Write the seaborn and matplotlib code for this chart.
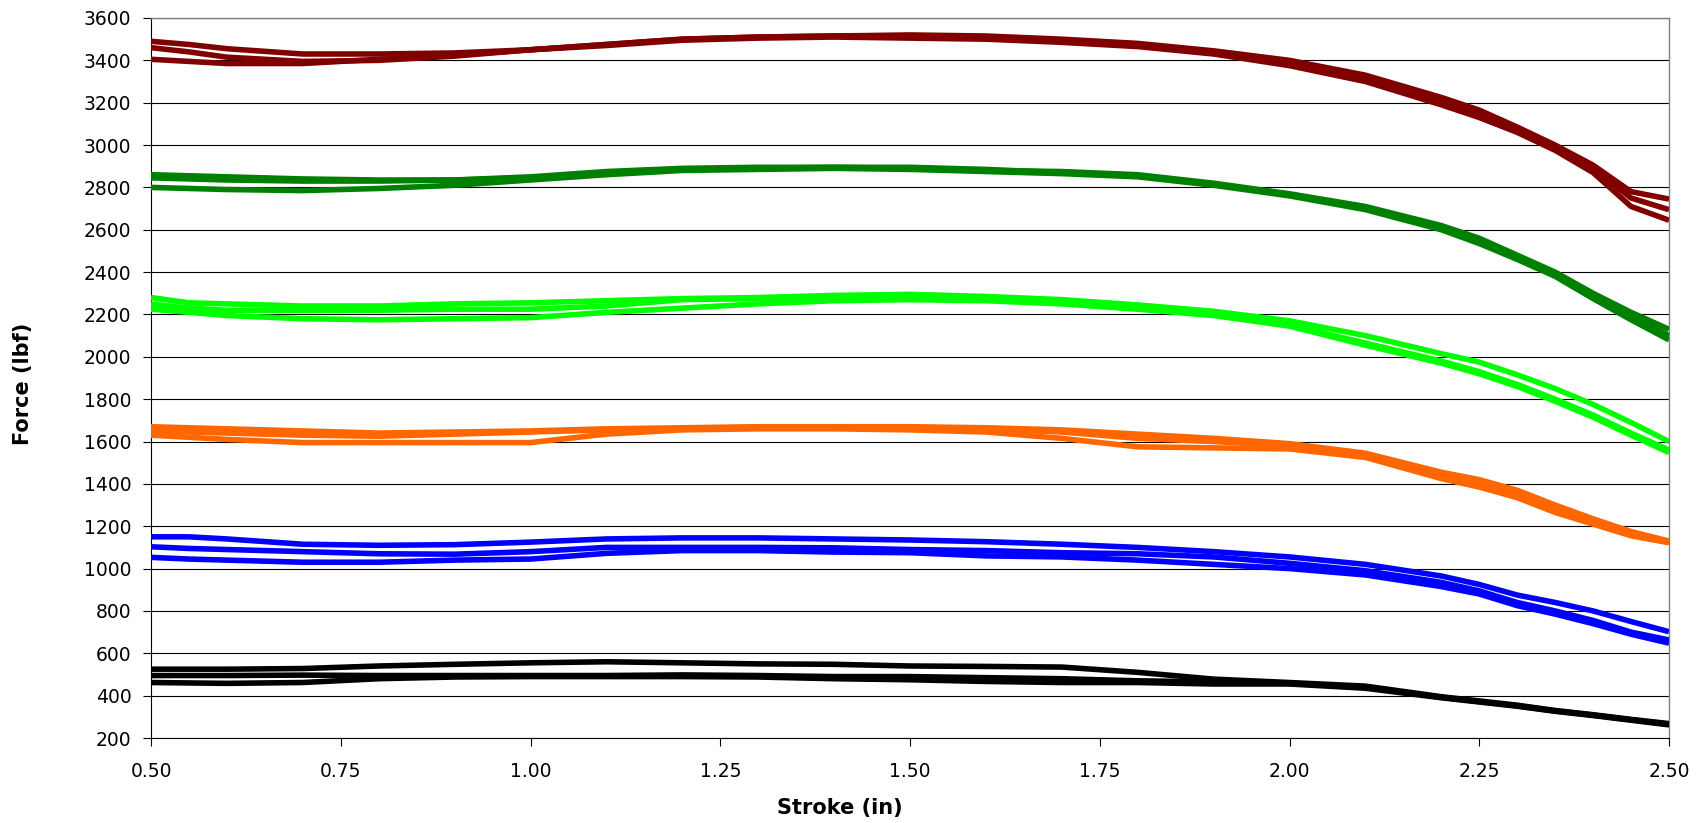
import pandas as pd
import seaborn as sns
import matplotlib.pyplot as plt

stroke = [0.50, 0.55, 0.60, 0.70, 0.80, 0.90, 1.00, 1.10, 1.20, 1.30, 1.40, 1.50, 1.60,
          1.70, 1.80, 1.90, 2.00, 2.10, 2.20, 2.25, 2.30, 2.35, 2.40, 2.45, 2.50]

# dark red set
red_1 = [3490, 3475, 3455, 3430, 3430, 3435, 3450, 3475, 3500, 3510, 3515, 3520, 3515,
         3500, 3480, 3445, 3400, 3330, 3225, 3165, 3085, 3000, 2905, 2780, 2745]
red_2 = [3460, 3440, 3415, 3395, 3400, 3420, 3450, 3475, 3500, 3510, 3515, 3515, 3510,
         3495, 3470, 3435, 3390, 3320, 3210, 3150, 3075, 2990, 2890, 2750, 2695]
red_3 = [3405, 3395, 3385, 3385, 3405, 3425, 3450, 3470, 3495, 3505, 3510, 3505, 3500,
         3485, 3465, 3430, 3375, 3300, 3190, 3130, 3060, 2975, 2870, 2710, 2645]

# green set
green_1 = [2860, 2855, 2850, 2840, 2835, 2835, 2850, 2875, 2890, 2895, 2895, 2890, 2880,
           2875, 2860, 2820, 2770, 2710, 2620, 2560, 2480, 2400, 2300, 2210, 2130]
green_2 = [2845, 2840, 2835, 2830, 2830, 2835, 2845, 2870, 2885, 2890, 2895, 2895, 2885,
           2870, 2855, 2815, 2765, 2705, 2610, 2545, 2470, 2390, 2290, 2190, 2100]
green_3 = [2800, 2795, 2790, 2785, 2795, 2810, 2835, 2860, 2880, 2885, 2890, 2885, 2875,
           2865, 2850, 2810, 2760, 2695, 2600, 2535, 2460, 2380, 2275, 2175, 2080]

# lime set
lime_1 = [2280, 2255, 2250, 2240, 2240, 2250, 2255, 2265, 2275, 2280, 2290, 2295, 2285,
          2270, 2245, 2215, 2170, 2100, 2015, 1975, 1915, 1850, 1775, 1690, 1600]
lime_2 = [2250, 2230, 2220, 2220, 2220, 2225, 2225, 2240, 2270, 2275, 2280, 2280, 2275,
          2260, 2235, 2200, 2150, 2065, 1980, 1930, 1870, 1800, 1725, 1640, 1560]
lime_3 = [2225, 2210, 2195, 2180, 2175, 2180, 2185, 2210, 2230, 2250, 2265, 2270, 2265,
          2250, 2225, 2195, 2145, 2055, 1970, 1920, 1860, 1790, 1715, 1630, 1548]

# orange set
orange_1 = [1670, 1665, 1660, 1650, 1640, 1645, 1650, 1660, 1665, 1670, 1670, 1670, 1665,
            1655, 1635, 1615, 1590, 1545, 1455, 1420, 1370, 1300, 1235, 1175, 1130]
orange_2 = [1650, 1645, 1640, 1630, 1625, 1635, 1645, 1655, 1660, 1665, 1665, 1665, 1660,
            1645, 1615, 1600, 1580, 1535, 1440, 1400, 1355, 1285, 1225, 1165, 1125]
orange_3 = [1630, 1620, 1610, 1595, 1595, 1595, 1595, 1635, 1655, 1660, 1660, 1655, 1645,
            1615, 1575, 1570, 1565, 1525, 1425, 1385, 1335, 1265, 1210, 1155, 1122]

# blue set
blue_1 = [1150, 1150, 1140, 1115, 1110, 1113, 1125, 1140, 1145, 1145, 1140, 1135, 1127,
          1115, 1100, 1080, 1055, 1020, 965, 925, 875, 840, 800, 750, 702]
blue_2 = [1103, 1095, 1090, 1080, 1070, 1068, 1080, 1100, 1100, 1100, 1098, 1090, 1085,
          1075, 1070, 1055, 1025, 990, 935, 895, 840, 800, 755, 700, 663]
blue_3 = [1053, 1045, 1040, 1030, 1030, 1040, 1045, 1072, 1085, 1085, 1078, 1075, 1060,
          1055, 1040, 1020, 1000, 970, 915, 880, 825, 785, 740, 690, 648]

# black set
black_1 = [525, 525, 525, 528, 540, 548, 555, 560, 555, 550, 548, 540, 538,
           535, 510, 478, 462, 445, 395, 375, 355, 330, 310, 288, 268]
black_2 = [495, 495, 495, 497, 495, 495, 495, 495, 498, 495, 490, 490, 485,
           480, 470, 465, 458, 440, 392, 372, 352, 328, 308, 286, 265]
black_3 = [462, 460, 458, 462, 480, 488, 490, 490, 490, 488, 480, 475, 467,
           462, 462, 455, 455, 435, 390, 370, 350, 326, 306, 284, 262]

groups = {
    '#800000': [red_1, red_2, red_3],
    '#008000': [green_1, green_2, green_3],
    '#00FF00': [lime_1, lime_2, lime_3],
    '#FF6600': [orange_1, orange_2, orange_3],
    '#0000FF': [blue_1, blue_2, blue_3],
    '#000000': [black_1, black_2, black_3],
}

rows = []
palette = {}
for color, curves in groups.items():
    for i, vals in enumerate(curves):
        name = f'{color}_{i}'
        palette[name] = color
        for s, f in zip(stroke, vals):
            rows.append({'Stroke': s, 'Force': f, 'curve': name})
df = pd.DataFrame(rows)

sns.set_style('white')
plt.rcParams['font.family'] = ['DejaVu Sans']
plt.rcParams['text.color'] = 'black'
plt.rcParams['axes.labelcolor'] = 'black'

fig = plt.figure(figsize=(17.04, 8.23), dpi=100)
ax = fig.add_axes([151 / 1704, 1 - 738 / 823, 1518 / 1704, 720 / 823])

sns.lineplot(data=df, x='Stroke', y='Force', hue='curve', palette=palette,
             legend=False, linewidth=4.0, sort=False, ax=ax, zorder=3)
for line in ax.lines:
    line.set_solid_capstyle('butt')
    line.set_solid_joinstyle('round')

ax.set_xlim(0.5, 2.5)
ax.set_ylim(200, 3600)
ax.set_xticks([0.5, 0.75, 1.0, 1.25, 1.5, 1.75, 2.0, 2.25, 2.5])
ax.set_xticklabels([f'{t:.2f}' for t in ax.get_xticks()])
ax.set_yticks(range(200, 3601, 200))

ax.grid(axis='y', color='black', linewidth=0.8)
ax.grid(axis='x', visible=False)
ax.set_axisbelow(True)

for side in ['left', 'bottom']:
    ax.spines[side].set_color('black')
    ax.spines[side].set_linewidth(0.8)
for side in ['right', 'top']:
    ax.spines[side].set_color('#808080')
    ax.spines[side].set_linewidth(1.0)

ax.tick_params(axis='both', direction='out', length=6, width=0.8, color='black',
               labelsize=13.5, labelcolor='black')
ax.tick_params(axis='y', pad=8, left=True)
ax.tick_params(axis='x', pad=11, bottom=True)

ax.set_xlabel('Stroke (in)', fontsize=15, fontweight='bold', va='center')
ax.xaxis.set_label_coords(0.454, -0.097)
ax.set_ylabel('Force (lbf)', fontsize=15, fontweight='bold', va='center')
ax.yaxis.set_label_coords(-0.084, 0.492)

plt.savefig('out.png', dpi=100)
